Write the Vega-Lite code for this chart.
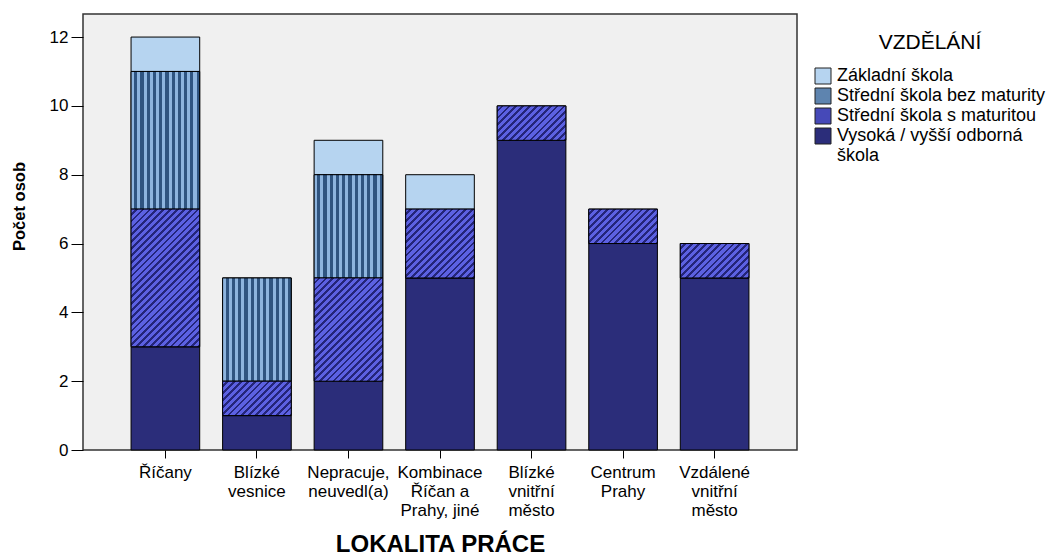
{
  "$schema": "https://vega.github.io/schema/vega-lite/v6.json",
  "width": 714,
  "height": 436,
  "autosize": {"type": "none"},
  "padding": {"left": 83, "top": 14, "right": 252, "bottom": 107},
  "background": "white",
  "config": {
    "font": "Liberation Sans",
    "view": {"stroke": "#333333", "strokeWidth": 1.5, "fill": "#f0f0f0"},
    "axis": {"labelColor": "#000", "titleColor": "#000", "tickColor": "#000", "domain": false, "grid": false, "labelFont": "Liberation Sans", "titleFont": "Liberation Sans"},
    "legend": {"labelColor": "#000", "titleColor": "#000", "labelFont": "Liberation Sans", "titleFont": "Liberation Sans"}
  },
  "data": {
    "values": [
      {"lokalita": "Říčany", "vzdelani": "Vysoká / vyšší odborná škola", "pocet": 3},
      {"lokalita": "Říčany", "vzdelani": "Střední škola s maturitou", "pocet": 4},
      {"lokalita": "Říčany", "vzdelani": "Střední škola bez maturity", "pocet": 4},
      {"lokalita": "Říčany", "vzdelani": "Základní škola", "pocet": 1},
      {"lokalita": "Blízké vesnice", "vzdelani": "Vysoká / vyšší odborná škola", "pocet": 1},
      {"lokalita": "Blízké vesnice", "vzdelani": "Střední škola s maturitou", "pocet": 1},
      {"lokalita": "Blízké vesnice", "vzdelani": "Střední škola bez maturity", "pocet": 3},
      {"lokalita": "Nepracuje, neuvedl(a)", "vzdelani": "Vysoká / vyšší odborná škola", "pocet": 2},
      {"lokalita": "Nepracuje, neuvedl(a)", "vzdelani": "Střední škola s maturitou", "pocet": 3},
      {"lokalita": "Nepracuje, neuvedl(a)", "vzdelani": "Střední škola bez maturity", "pocet": 3},
      {"lokalita": "Nepracuje, neuvedl(a)", "vzdelani": "Základní škola", "pocet": 1},
      {"lokalita": "Kombinace Říčan a Prahy, jiné", "vzdelani": "Vysoká / vyšší odborná škola", "pocet": 5},
      {"lokalita": "Kombinace Říčan a Prahy, jiné", "vzdelani": "Střední škola s maturitou", "pocet": 2},
      {"lokalita": "Kombinace Říčan a Prahy, jiné", "vzdelani": "Základní škola", "pocet": 1},
      {"lokalita": "Blízké vnitřní město", "vzdelani": "Vysoká / vyšší odborná škola", "pocet": 9},
      {"lokalita": "Blízké vnitřní město", "vzdelani": "Střední škola s maturitou", "pocet": 1},
      {"lokalita": "Centrum Prahy", "vzdelani": "Vysoká / vyšší odborná škola", "pocet": 6},
      {"lokalita": "Centrum Prahy", "vzdelani": "Střední škola s maturitou", "pocet": 1},
      {"lokalita": "Vzdálené vnitřní město", "vzdelani": "Vysoká / vyšší odborná škola", "pocet": 5},
      {"lokalita": "Vzdálené vnitřní město", "vzdelani": "Střední škola s maturitou", "pocet": 1}
    ]
  },
  "transform": [
    {"calculate": "indexof(['Vysoká / vyšší odborná škola','Střední škola s maturitou','Střední škola bez maturity','Základní škola'], datum.vzdelani)", "as": "poradi"},
    {"stack": "pocet", "groupby": ["lokalita"], "sort": [{"field": "poradi", "order": "ascending"}], "as": ["y0", "y1"]}
  ],
  "encoding": {
    "x": {
      "field": "lokalita", "type": "nominal",
      "sort": ["Říčany", "Blízké vesnice", "Nepracuje, neuvedl(a)", "Kombinace Říčan a Prahy, jiné", "Blízké vnitřní město", "Centrum Prahy", "Vzdálené vnitřní město"],
      "scale": {"paddingInner": 0.25, "paddingOuter": 0.525},
      "title": "LOKALITA PRÁCE",
      "axis": {
        "labelAngle": 0, "labelFontSize": 17, "labelLineHeight": 19, "labelPadding": 6, "tickSize": 8, "labelOverlap": false, "labelLimit": 200,
        "labelExpr": "datum.label == 'Blízké vesnice' ? ['Blízké','vesnice'] : datum.label == 'Nepracuje, neuvedl(a)' ? ['Nepracuje,','neuvedl(a)'] : datum.label == 'Kombinace Říčan a Prahy, jiné' ? ['Kombinace','Říčan a','Prahy, jiné'] : datum.label == 'Blízké vnitřní město' ? ['Blízké','vnitřní','město'] : datum.label == 'Centrum Prahy' ? ['Centrum','Prahy'] : datum.label == 'Vzdálené vnitřní město' ? ['Vzdálené','vnitřní','město'] : datum.label",
        "titleFontSize": 24, "titleFontWeight": "bold", "titleY": 101, "titleBaseline": "alphabetic"
      }
    },
    "y": {
      "field": "y1", "type": "quantitative",
      "scale": {"domain": [0, 12.67], "nice": false, "zero": true},
      "title": "Počet osob",
      "axis": {"values": [0, 2, 4, 6, 8, 10, 12], "labelFontSize": 17, "tickSize": 12, "labelPadding": 3, "titleFontSize": 16.5, "titleFontWeight": "bold", "titleX": -64, "titleY": 192, "titleBaseline": "middle"}
    },
    "y2": {"field": "y0"}
  },
  "layer": [
    {
      "mark": {"type": "bar", "stroke": "#000", "strokeWidth": 1},
      "encoding": {
        "color": {
          "field": "vzdelani", "type": "nominal", "title": "VZDĚLÁNÍ",
          "scale": {
            "domain": ["Základní škola", "Střední škola bez maturity", "Střední škola s maturitou", "Vysoká / vyšší odborná škola"],
            "range": ["#b6d4f0", "#5e84af", "#4649b8", "#2b2d7a"]
          },
          "legend": {
            "orient": "none", "legendX": 731, "legendY": 18, "padding": 0,
            "titleFontSize": 21, "titleFontWeight": "normal", "titleAnchor": "middle", "titlePadding": 14,
            "labelFontSize": 18, "labelOffset": 5, "labelLimit": 300,
            "symbolType": "square", "symbolSize": 256, "symbolStrokeColor": "#222", "symbolStrokeWidth": 1, "rowPadding": 0,
            "labelExpr": "datum.label == 'Vysoká / vyšší odborná škola' ? ['Vysoká / vyšší odborná', 'škola'] : datum.label"
          }
        }
      }
    },
    {
      "transform": [{"filter": "datum.vzdelani == 'Střední škola bez maturity'"}],
      "mark": {"type": "bar", "stroke": "#000", "strokeWidth": 1, "fill": {"gradient": "linear", "x1": 0, "y1": 0, "x2": 1, "y2": 0, "stops": [
        {"offset": 0, "color": "#8db4de"}, {"offset": 0.04545, "color": "#8db4de"}, {"offset": 0.04545, "color": "#2f5480"}, {"offset": 0.09091, "color": "#2f5480"},
        {"offset": 0.09091, "color": "#8db4de"}, {"offset": 0.13636, "color": "#8db4de"}, {"offset": 0.13636, "color": "#2f5480"}, {"offset": 0.18182, "color": "#2f5480"},
        {"offset": 0.18182, "color": "#8db4de"}, {"offset": 0.22727, "color": "#8db4de"}, {"offset": 0.22727, "color": "#2f5480"}, {"offset": 0.27273, "color": "#2f5480"},
        {"offset": 0.27273, "color": "#8db4de"}, {"offset": 0.31818, "color": "#8db4de"}, {"offset": 0.31818, "color": "#2f5480"}, {"offset": 0.36364, "color": "#2f5480"},
        {"offset": 0.36364, "color": "#8db4de"}, {"offset": 0.40909, "color": "#8db4de"}, {"offset": 0.40909, "color": "#2f5480"}, {"offset": 0.45455, "color": "#2f5480"},
        {"offset": 0.45455, "color": "#8db4de"}, {"offset": 0.5, "color": "#8db4de"}, {"offset": 0.5, "color": "#2f5480"}, {"offset": 0.54545, "color": "#2f5480"},
        {"offset": 0.54545, "color": "#8db4de"}, {"offset": 0.59091, "color": "#8db4de"}, {"offset": 0.59091, "color": "#2f5480"}, {"offset": 0.63636, "color": "#2f5480"},
        {"offset": 0.63636, "color": "#8db4de"}, {"offset": 0.68182, "color": "#8db4de"}, {"offset": 0.68182, "color": "#2f5480"}, {"offset": 0.72727, "color": "#2f5480"},
        {"offset": 0.72727, "color": "#8db4de"}, {"offset": 0.77273, "color": "#8db4de"}, {"offset": 0.77273, "color": "#2f5480"}, {"offset": 0.81818, "color": "#2f5480"},
        {"offset": 0.81818, "color": "#8db4de"}, {"offset": 0.86364, "color": "#8db4de"}, {"offset": 0.86364, "color": "#2f5480"}, {"offset": 0.90909, "color": "#2f5480"},
        {"offset": 0.90909, "color": "#8db4de"}, {"offset": 0.95455, "color": "#8db4de"}, {"offset": 0.95455, "color": "#2f5480"}, {"offset": 1, "color": "#2f5480"}
      ]}}
    },
    {
      "transform": [{"filter": "datum.vzdelani == 'Střední škola s maturitou' && datum.pocet == 1"}],
      "mark": {"type": "bar", "stroke": "#000", "strokeWidth": 1, "fill": {"gradient": "linear", "x1": 0, "y1": 0, "x2": 1.1998, "y2": 0.6014, "stops": [
        {"offset": 0, "color": "#5c61e2"}, {"offset": 0.04, "color": "#5c61e2"}, {"offset": 0.04, "color": "#24257a"}, {"offset": 0.06667, "color": "#24257a"},
        {"offset": 0.06667, "color": "#5c61e2"}, {"offset": 0.10667, "color": "#5c61e2"}, {"offset": 0.10667, "color": "#24257a"}, {"offset": 0.13333, "color": "#24257a"},
        {"offset": 0.13333, "color": "#5c61e2"}, {"offset": 0.17333, "color": "#5c61e2"}, {"offset": 0.17333, "color": "#24257a"}, {"offset": 0.2, "color": "#24257a"},
        {"offset": 0.2, "color": "#5c61e2"}, {"offset": 0.24, "color": "#5c61e2"}, {"offset": 0.24, "color": "#24257a"}, {"offset": 0.26667, "color": "#24257a"},
        {"offset": 0.26667, "color": "#5c61e2"}, {"offset": 0.30667, "color": "#5c61e2"}, {"offset": 0.30667, "color": "#24257a"}, {"offset": 0.33333, "color": "#24257a"},
        {"offset": 0.33333, "color": "#5c61e2"}, {"offset": 0.37333, "color": "#5c61e2"}, {"offset": 0.37333, "color": "#24257a"}, {"offset": 0.4, "color": "#24257a"},
        {"offset": 0.4, "color": "#5c61e2"}, {"offset": 0.44, "color": "#5c61e2"}, {"offset": 0.44, "color": "#24257a"}, {"offset": 0.46667, "color": "#24257a"},
        {"offset": 0.46667, "color": "#5c61e2"}, {"offset": 0.50667, "color": "#5c61e2"}, {"offset": 0.50667, "color": "#24257a"}, {"offset": 0.53333, "color": "#24257a"},
        {"offset": 0.53333, "color": "#5c61e2"}, {"offset": 0.57333, "color": "#5c61e2"}, {"offset": 0.57333, "color": "#24257a"}, {"offset": 0.6, "color": "#24257a"},
        {"offset": 0.6, "color": "#5c61e2"}, {"offset": 0.64, "color": "#5c61e2"}, {"offset": 0.64, "color": "#24257a"}, {"offset": 0.66667, "color": "#24257a"},
        {"offset": 0.66667, "color": "#5c61e2"}, {"offset": 0.70667, "color": "#5c61e2"}, {"offset": 0.70667, "color": "#24257a"}, {"offset": 0.73333, "color": "#24257a"},
        {"offset": 0.73333, "color": "#5c61e2"}, {"offset": 0.77333, "color": "#5c61e2"}, {"offset": 0.77333, "color": "#24257a"}, {"offset": 0.8, "color": "#24257a"},
        {"offset": 0.8, "color": "#5c61e2"}, {"offset": 0.84, "color": "#5c61e2"}, {"offset": 0.84, "color": "#24257a"}, {"offset": 0.86667, "color": "#24257a"},
        {"offset": 0.86667, "color": "#5c61e2"}, {"offset": 0.90667, "color": "#5c61e2"}, {"offset": 0.90667, "color": "#24257a"}, {"offset": 0.93333, "color": "#24257a"},
        {"offset": 0.93333, "color": "#5c61e2"}, {"offset": 0.97333, "color": "#5c61e2"}, {"offset": 0.97333, "color": "#24257a"}, {"offset": 1, "color": "#24257a"}
      ]}}
    },
    {
      "transform": [{"filter": "datum.vzdelani == 'Střední škola s maturitou' && datum.pocet == 2"}],
      "mark": {"type": "bar", "stroke": "#000", "strokeWidth": 1, "fill": {"gradient": "linear", "x1": 0, "y1": 0, "x2": 0.9988, "y2": 1.0013, "stops": [
        {"offset": 0, "color": "#5c61e2"}, {"offset": 0.03, "color": "#5c61e2"}, {"offset": 0.03, "color": "#24257a"}, {"offset": 0.05, "color": "#24257a"},
        {"offset": 0.05, "color": "#5c61e2"}, {"offset": 0.08, "color": "#5c61e2"}, {"offset": 0.08, "color": "#24257a"}, {"offset": 0.1, "color": "#24257a"},
        {"offset": 0.1, "color": "#5c61e2"}, {"offset": 0.13, "color": "#5c61e2"}, {"offset": 0.13, "color": "#24257a"}, {"offset": 0.15, "color": "#24257a"},
        {"offset": 0.15, "color": "#5c61e2"}, {"offset": 0.18, "color": "#5c61e2"}, {"offset": 0.18, "color": "#24257a"}, {"offset": 0.2, "color": "#24257a"},
        {"offset": 0.2, "color": "#5c61e2"}, {"offset": 0.23, "color": "#5c61e2"}, {"offset": 0.23, "color": "#24257a"}, {"offset": 0.25, "color": "#24257a"},
        {"offset": 0.25, "color": "#5c61e2"}, {"offset": 0.28, "color": "#5c61e2"}, {"offset": 0.28, "color": "#24257a"}, {"offset": 0.3, "color": "#24257a"},
        {"offset": 0.3, "color": "#5c61e2"}, {"offset": 0.33, "color": "#5c61e2"}, {"offset": 0.33, "color": "#24257a"}, {"offset": 0.35, "color": "#24257a"},
        {"offset": 0.35, "color": "#5c61e2"}, {"offset": 0.38, "color": "#5c61e2"}, {"offset": 0.38, "color": "#24257a"}, {"offset": 0.4, "color": "#24257a"},
        {"offset": 0.4, "color": "#5c61e2"}, {"offset": 0.43, "color": "#5c61e2"}, {"offset": 0.43, "color": "#24257a"}, {"offset": 0.45, "color": "#24257a"},
        {"offset": 0.45, "color": "#5c61e2"}, {"offset": 0.48, "color": "#5c61e2"}, {"offset": 0.48, "color": "#24257a"}, {"offset": 0.5, "color": "#24257a"},
        {"offset": 0.5, "color": "#5c61e2"}, {"offset": 0.53, "color": "#5c61e2"}, {"offset": 0.53, "color": "#24257a"}, {"offset": 0.55, "color": "#24257a"},
        {"offset": 0.55, "color": "#5c61e2"}, {"offset": 0.58, "color": "#5c61e2"}, {"offset": 0.58, "color": "#24257a"}, {"offset": 0.6, "color": "#24257a"},
        {"offset": 0.6, "color": "#5c61e2"}, {"offset": 0.63, "color": "#5c61e2"}, {"offset": 0.63, "color": "#24257a"}, {"offset": 0.65, "color": "#24257a"},
        {"offset": 0.65, "color": "#5c61e2"}, {"offset": 0.68, "color": "#5c61e2"}, {"offset": 0.68, "color": "#24257a"}, {"offset": 0.7, "color": "#24257a"},
        {"offset": 0.7, "color": "#5c61e2"}, {"offset": 0.73, "color": "#5c61e2"}, {"offset": 0.73, "color": "#24257a"}, {"offset": 0.75, "color": "#24257a"},
        {"offset": 0.75, "color": "#5c61e2"}, {"offset": 0.78, "color": "#5c61e2"}, {"offset": 0.78, "color": "#24257a"}, {"offset": 0.8, "color": "#24257a"},
        {"offset": 0.8, "color": "#5c61e2"}, {"offset": 0.83, "color": "#5c61e2"}, {"offset": 0.83, "color": "#24257a"}, {"offset": 0.85, "color": "#24257a"},
        {"offset": 0.85, "color": "#5c61e2"}, {"offset": 0.88, "color": "#5c61e2"}, {"offset": 0.88, "color": "#24257a"}, {"offset": 0.9, "color": "#24257a"},
        {"offset": 0.9, "color": "#5c61e2"}, {"offset": 0.93, "color": "#5c61e2"}, {"offset": 0.93, "color": "#24257a"}, {"offset": 0.95, "color": "#24257a"},
        {"offset": 0.95, "color": "#5c61e2"}, {"offset": 0.98, "color": "#5c61e2"}, {"offset": 0.98, "color": "#24257a"}, {"offset": 1, "color": "#24257a"}
      ]}}
    },
    {
      "transform": [{"filter": "datum.vzdelani == 'Střední škola s maturitou' && datum.pocet == 3"}],
      "mark": {"type": "bar", "stroke": "#000", "strokeWidth": 1, "fill": {"gradient": "linear", "x1": 0, "y1": 0, "x2": 0.7677, "y2": 1.1544, "stops": [
        {"offset": 0, "color": "#5c61e2"}, {"offset": 0.024, "color": "#5c61e2"}, {"offset": 0.024, "color": "#24257a"}, {"offset": 0.04, "color": "#24257a"},
        {"offset": 0.04, "color": "#5c61e2"}, {"offset": 0.064, "color": "#5c61e2"}, {"offset": 0.064, "color": "#24257a"}, {"offset": 0.08, "color": "#24257a"},
        {"offset": 0.08, "color": "#5c61e2"}, {"offset": 0.104, "color": "#5c61e2"}, {"offset": 0.104, "color": "#24257a"}, {"offset": 0.12, "color": "#24257a"},
        {"offset": 0.12, "color": "#5c61e2"}, {"offset": 0.144, "color": "#5c61e2"}, {"offset": 0.144, "color": "#24257a"}, {"offset": 0.16, "color": "#24257a"},
        {"offset": 0.16, "color": "#5c61e2"}, {"offset": 0.184, "color": "#5c61e2"}, {"offset": 0.184, "color": "#24257a"}, {"offset": 0.2, "color": "#24257a"},
        {"offset": 0.2, "color": "#5c61e2"}, {"offset": 0.224, "color": "#5c61e2"}, {"offset": 0.224, "color": "#24257a"}, {"offset": 0.24, "color": "#24257a"},
        {"offset": 0.24, "color": "#5c61e2"}, {"offset": 0.264, "color": "#5c61e2"}, {"offset": 0.264, "color": "#24257a"}, {"offset": 0.28, "color": "#24257a"},
        {"offset": 0.28, "color": "#5c61e2"}, {"offset": 0.304, "color": "#5c61e2"}, {"offset": 0.304, "color": "#24257a"}, {"offset": 0.32, "color": "#24257a"},
        {"offset": 0.32, "color": "#5c61e2"}, {"offset": 0.344, "color": "#5c61e2"}, {"offset": 0.344, "color": "#24257a"}, {"offset": 0.36, "color": "#24257a"},
        {"offset": 0.36, "color": "#5c61e2"}, {"offset": 0.384, "color": "#5c61e2"}, {"offset": 0.384, "color": "#24257a"}, {"offset": 0.4, "color": "#24257a"},
        {"offset": 0.4, "color": "#5c61e2"}, {"offset": 0.424, "color": "#5c61e2"}, {"offset": 0.424, "color": "#24257a"}, {"offset": 0.44, "color": "#24257a"},
        {"offset": 0.44, "color": "#5c61e2"}, {"offset": 0.464, "color": "#5c61e2"}, {"offset": 0.464, "color": "#24257a"}, {"offset": 0.48, "color": "#24257a"},
        {"offset": 0.48, "color": "#5c61e2"}, {"offset": 0.504, "color": "#5c61e2"}, {"offset": 0.504, "color": "#24257a"}, {"offset": 0.52, "color": "#24257a"},
        {"offset": 0.52, "color": "#5c61e2"}, {"offset": 0.544, "color": "#5c61e2"}, {"offset": 0.544, "color": "#24257a"}, {"offset": 0.56, "color": "#24257a"},
        {"offset": 0.56, "color": "#5c61e2"}, {"offset": 0.584, "color": "#5c61e2"}, {"offset": 0.584, "color": "#24257a"}, {"offset": 0.6, "color": "#24257a"},
        {"offset": 0.6, "color": "#5c61e2"}, {"offset": 0.624, "color": "#5c61e2"}, {"offset": 0.624, "color": "#24257a"}, {"offset": 0.64, "color": "#24257a"},
        {"offset": 0.64, "color": "#5c61e2"}, {"offset": 0.664, "color": "#5c61e2"}, {"offset": 0.664, "color": "#24257a"}, {"offset": 0.68, "color": "#24257a"},
        {"offset": 0.68, "color": "#5c61e2"}, {"offset": 0.704, "color": "#5c61e2"}, {"offset": 0.704, "color": "#24257a"}, {"offset": 0.72, "color": "#24257a"},
        {"offset": 0.72, "color": "#5c61e2"}, {"offset": 0.744, "color": "#5c61e2"}, {"offset": 0.744, "color": "#24257a"}, {"offset": 0.76, "color": "#24257a"},
        {"offset": 0.76, "color": "#5c61e2"}, {"offset": 0.784, "color": "#5c61e2"}, {"offset": 0.784, "color": "#24257a"}, {"offset": 0.8, "color": "#24257a"},
        {"offset": 0.8, "color": "#5c61e2"}, {"offset": 0.824, "color": "#5c61e2"}, {"offset": 0.824, "color": "#24257a"}, {"offset": 0.84, "color": "#24257a"},
        {"offset": 0.84, "color": "#5c61e2"}, {"offset": 0.864, "color": "#5c61e2"}, {"offset": 0.864, "color": "#24257a"}, {"offset": 0.88, "color": "#24257a"},
        {"offset": 0.88, "color": "#5c61e2"}, {"offset": 0.904, "color": "#5c61e2"}, {"offset": 0.904, "color": "#24257a"}, {"offset": 0.92, "color": "#24257a"},
        {"offset": 0.92, "color": "#5c61e2"}, {"offset": 0.944, "color": "#5c61e2"}, {"offset": 0.944, "color": "#24257a"}, {"offset": 0.96, "color": "#24257a"},
        {"offset": 0.96, "color": "#5c61e2"}, {"offset": 0.984, "color": "#5c61e2"}, {"offset": 0.984, "color": "#24257a"}, {"offset": 1, "color": "#24257a"}
      ]}}
    },
    {
      "transform": [{"filter": "datum.vzdelani == 'Střední škola s maturitou' && datum.pocet == 4"}],
      "mark": {"type": "bar", "stroke": "#000", "strokeWidth": 1, "fill": {"gradient": "linear", "x1": 0, "y1": 0, "x2": 0.5986, "y2": 1.2002, "stops": [
        {"offset": 0, "color": "#5c61e2"}, {"offset": 0.02, "color": "#5c61e2"}, {"offset": 0.02, "color": "#24257a"}, {"offset": 0.03333, "color": "#24257a"},
        {"offset": 0.03333, "color": "#5c61e2"}, {"offset": 0.05333, "color": "#5c61e2"}, {"offset": 0.05333, "color": "#24257a"}, {"offset": 0.06667, "color": "#24257a"},
        {"offset": 0.06667, "color": "#5c61e2"}, {"offset": 0.08667, "color": "#5c61e2"}, {"offset": 0.08667, "color": "#24257a"}, {"offset": 0.1, "color": "#24257a"},
        {"offset": 0.1, "color": "#5c61e2"}, {"offset": 0.12, "color": "#5c61e2"}, {"offset": 0.12, "color": "#24257a"}, {"offset": 0.13333, "color": "#24257a"},
        {"offset": 0.13333, "color": "#5c61e2"}, {"offset": 0.15333, "color": "#5c61e2"}, {"offset": 0.15333, "color": "#24257a"}, {"offset": 0.16667, "color": "#24257a"},
        {"offset": 0.16667, "color": "#5c61e2"}, {"offset": 0.18667, "color": "#5c61e2"}, {"offset": 0.18667, "color": "#24257a"}, {"offset": 0.2, "color": "#24257a"},
        {"offset": 0.2, "color": "#5c61e2"}, {"offset": 0.22, "color": "#5c61e2"}, {"offset": 0.22, "color": "#24257a"}, {"offset": 0.23333, "color": "#24257a"},
        {"offset": 0.23333, "color": "#5c61e2"}, {"offset": 0.25333, "color": "#5c61e2"}, {"offset": 0.25333, "color": "#24257a"}, {"offset": 0.26667, "color": "#24257a"},
        {"offset": 0.26667, "color": "#5c61e2"}, {"offset": 0.28667, "color": "#5c61e2"}, {"offset": 0.28667, "color": "#24257a"}, {"offset": 0.3, "color": "#24257a"},
        {"offset": 0.3, "color": "#5c61e2"}, {"offset": 0.32, "color": "#5c61e2"}, {"offset": 0.32, "color": "#24257a"}, {"offset": 0.33333, "color": "#24257a"},
        {"offset": 0.33333, "color": "#5c61e2"}, {"offset": 0.35333, "color": "#5c61e2"}, {"offset": 0.35333, "color": "#24257a"}, {"offset": 0.36667, "color": "#24257a"},
        {"offset": 0.36667, "color": "#5c61e2"}, {"offset": 0.38667, "color": "#5c61e2"}, {"offset": 0.38667, "color": "#24257a"}, {"offset": 0.4, "color": "#24257a"},
        {"offset": 0.4, "color": "#5c61e2"}, {"offset": 0.42, "color": "#5c61e2"}, {"offset": 0.42, "color": "#24257a"}, {"offset": 0.43333, "color": "#24257a"},
        {"offset": 0.43333, "color": "#5c61e2"}, {"offset": 0.45333, "color": "#5c61e2"}, {"offset": 0.45333, "color": "#24257a"}, {"offset": 0.46667, "color": "#24257a"},
        {"offset": 0.46667, "color": "#5c61e2"}, {"offset": 0.48667, "color": "#5c61e2"}, {"offset": 0.48667, "color": "#24257a"}, {"offset": 0.5, "color": "#24257a"},
        {"offset": 0.5, "color": "#5c61e2"}, {"offset": 0.52, "color": "#5c61e2"}, {"offset": 0.52, "color": "#24257a"}, {"offset": 0.53333, "color": "#24257a"},
        {"offset": 0.53333, "color": "#5c61e2"}, {"offset": 0.55333, "color": "#5c61e2"}, {"offset": 0.55333, "color": "#24257a"}, {"offset": 0.56667, "color": "#24257a"},
        {"offset": 0.56667, "color": "#5c61e2"}, {"offset": 0.58667, "color": "#5c61e2"}, {"offset": 0.58667, "color": "#24257a"}, {"offset": 0.6, "color": "#24257a"},
        {"offset": 0.6, "color": "#5c61e2"}, {"offset": 0.62, "color": "#5c61e2"}, {"offset": 0.62, "color": "#24257a"}, {"offset": 0.63333, "color": "#24257a"},
        {"offset": 0.63333, "color": "#5c61e2"}, {"offset": 0.65333, "color": "#5c61e2"}, {"offset": 0.65333, "color": "#24257a"}, {"offset": 0.66667, "color": "#24257a"},
        {"offset": 0.66667, "color": "#5c61e2"}, {"offset": 0.68667, "color": "#5c61e2"}, {"offset": 0.68667, "color": "#24257a"}, {"offset": 0.7, "color": "#24257a"},
        {"offset": 0.7, "color": "#5c61e2"}, {"offset": 0.72, "color": "#5c61e2"}, {"offset": 0.72, "color": "#24257a"}, {"offset": 0.73333, "color": "#24257a"},
        {"offset": 0.73333, "color": "#5c61e2"}, {"offset": 0.75333, "color": "#5c61e2"}, {"offset": 0.75333, "color": "#24257a"}, {"offset": 0.76667, "color": "#24257a"},
        {"offset": 0.76667, "color": "#5c61e2"}, {"offset": 0.78667, "color": "#5c61e2"}, {"offset": 0.78667, "color": "#24257a"}, {"offset": 0.8, "color": "#24257a"},
        {"offset": 0.8, "color": "#5c61e2"}, {"offset": 0.82, "color": "#5c61e2"}, {"offset": 0.82, "color": "#24257a"}, {"offset": 0.83333, "color": "#24257a"},
        {"offset": 0.83333, "color": "#5c61e2"}, {"offset": 0.85333, "color": "#5c61e2"}, {"offset": 0.85333, "color": "#24257a"}, {"offset": 0.86667, "color": "#24257a"},
        {"offset": 0.86667, "color": "#5c61e2"}, {"offset": 0.88667, "color": "#5c61e2"}, {"offset": 0.88667, "color": "#24257a"}, {"offset": 0.9, "color": "#24257a"},
        {"offset": 0.9, "color": "#5c61e2"}, {"offset": 0.92, "color": "#5c61e2"}, {"offset": 0.92, "color": "#24257a"}, {"offset": 0.93333, "color": "#24257a"},
        {"offset": 0.93333, "color": "#5c61e2"}, {"offset": 0.95333, "color": "#5c61e2"}, {"offset": 0.95333, "color": "#24257a"}, {"offset": 0.96667, "color": "#24257a"},
        {"offset": 0.96667, "color": "#5c61e2"}, {"offset": 0.98667, "color": "#5c61e2"}, {"offset": 0.98667, "color": "#24257a"}, {"offset": 1, "color": "#24257a"}
      ]}}
    }
  ]
}
